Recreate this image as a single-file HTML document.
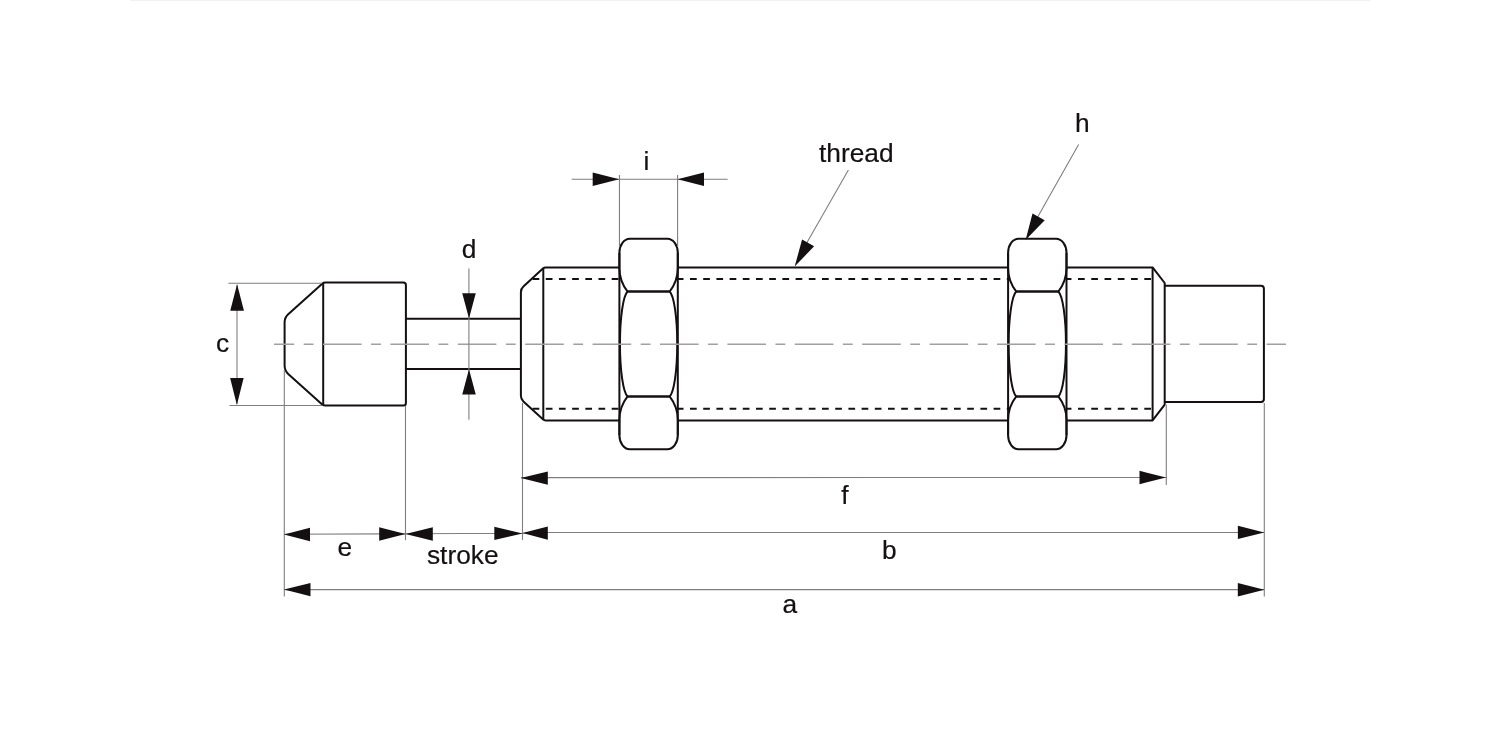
<!DOCTYPE html>
<html><head><meta charset="utf-8">
<style>
html,body{margin:0;padding:0;background:#fff;width:1500px;height:750px;overflow:hidden}
svg{display:block;will-change:transform}
text{font-family:"Liberation Sans",sans-serif;font-size:26.3px;fill:#141011;stroke:#141011;stroke-width:0.2px}
</style></head>
<body>
<svg width="1500" height="750" viewBox="0 0 1500 750">
<rect x="130" y="0" width="1240" height="1" fill="#f1f1f1"/>
<g fill="none" stroke="#141011" stroke-width="2" stroke-linejoin="round" stroke-linecap="butt">
<path d="M403.4,282.5 L325.4,282.5 Q323.6,282.5 322.2,283.7 L288.2,314.3 Q284.6,317.6 284.6,322.6 L284.6,365.6 Q284.6,370.6 288.2,373.9 L322.2,404.4 Q323.6,405.5 325.4,405.5 L403.4,405.5 Q405.9,405.5 405.9,403 L405.9,285 Q405.9,282.5 403.4,282.5 Z"/>
<path d="M323.2,283.4 L323.2,404.5"/>
<path d="M405.9,318.7 L520.9,318.7 M405.9,369.1 L520.9,369.1"/>
<path d="M545.6,267.4 L1152.6,267.4 L1164.7,283 L1164.7,404.6 L1152.6,420.4 L545.6,420.4 Q544.2,420.4 543.2,419.5 L523.4,401.4 Q520.9,399.1 520.9,395.7 L520.9,292.2 Q520.9,288.8 523.4,286.6 L543.2,268.3 Q544.2,267.4 545.6,267.4 Z"/>
<path d="M543.3,268.4 L543.3,419.4 M1152.6,267.4 L1152.6,420.4"/>
<path d="M1164.7,285.8 L1260.9,285.8 Q1263.9,285.8 1263.9,288.8 L1263.9,399.1 Q1263.9,402.1 1260.9,402.1 L1164.7,402.1"/>
</g>
<g stroke="#141011" stroke-width="2" fill="none">
<path d="M532.6,279.1 L620,279.1" stroke-dasharray="6.7 6.48"/>
<path d="M676.8,279.1 L1009,279.1" stroke-dasharray="6.7 6.5"/>
<path d="M1064.74,279.1 L1152,279.1" stroke-dasharray="6.7 6.56"/>
<path d="M532.6,408.8 L620,408.8" stroke-dasharray="6.7 6.48"/>
<path d="M676.8,408.8 L1009,408.8" stroke-dasharray="6.7 6.5"/>
<path d="M1064.74,408.8 L1152,408.8" stroke-dasharray="6.7 6.56"/>
</g>
<g stroke="#141011" stroke-width="2" stroke-linejoin="round">
<rect x="619.40" y="238.7" width="58.40" height="210.60" fill="#fff" stroke="none"/>
<path d="M619.40,252.7 L619.40,435.3 M677.80,252.7 L677.80,435.3" fill="none"/>
<path d="M629.80,238.7 L667.40,238.7 A10.4,14.0 0 0 1 677.80,252.7 L677.80,268.0 A38.0,38.0 0 0 1 669.60,291.6 L627.60,291.6 A38.0,38.0 0 0 1 619.40,268.0 L619.40,252.7 A10.4,14.0 0 0 1 629.80,238.7 Z" fill="none"/>
<path d="M627.60,291.6 L669.60,291.6 A9,53 0 0 1 669.60,396.4 L627.60,396.4 A9,53 0 0 1 627.60,291.6 Z" fill="none"/>
<path d="M629.80,449.3 L667.40,449.3 A10.4,14.0 0 0 0 677.80,435.3 L677.80,420.0 A38.0,38.0 0 0 0 669.60,396.4 L627.60,396.4 A38.0,38.0 0 0 0 619.40,420.0 L619.40,435.3 A10.4,14.0 0 0 0 629.80,449.3 Z" fill="none"/>
<rect x="1008.10" y="238.7" width="58.40" height="210.60" fill="#fff" stroke="none"/>
<path d="M1008.10,252.7 L1008.10,435.3 M1066.50,252.7 L1066.50,435.3" fill="none"/>
<path d="M1018.50,238.7 L1056.10,238.7 A10.4,14.0 0 0 1 1066.50,252.7 L1066.50,268.0 A38.0,38.0 0 0 1 1058.30,291.6 L1016.30,291.6 A38.0,38.0 0 0 1 1008.10,268.0 L1008.10,252.7 A10.4,14.0 0 0 1 1018.50,238.7 Z" fill="none"/>
<path d="M1016.30,291.6 L1058.30,291.6 A9,53 0 0 1 1058.30,396.4 L1016.30,396.4 A9,53 0 0 1 1016.30,291.6 Z" fill="none"/>
<path d="M1018.50,449.3 L1056.10,449.3 A10.4,14.0 0 0 0 1066.50,435.3 L1066.50,420.0 A38.0,38.0 0 0 0 1058.30,396.4 L1016.30,396.4 A38.0,38.0 0 0 0 1008.10,420.0 L1008.10,435.3 A10.4,14.0 0 0 0 1018.50,449.3 Z" fill="none"/>
</g>
<path d="M274,344.3 L1286,344.3" stroke="#a29fa0" stroke-width="1.4" fill="none" stroke-dasharray="38.6 9.5 9.8 9.5" stroke-dashoffset="18.4"/>
<g stroke="#817e7f" stroke-width="1.1" fill="none">
<path d="M228.4,283.3 L322,283.3 M229.5,405.5 L322,405.5 M237,285 L237,404 M468.9,268.6 L468.9,419.7 M571.7,179.3 L727.7,179.3 M619.47,175.1 L619.47,247 M677.6,175.1 L677.6,247 M284.3,370 L284.3,596.6 M405.5,406 L405.5,540.2 M522.5,403 L522.5,540 M1166.3,404.6 L1166.3,485 M1264.3,403 L1264.3,596.4 M521,477.6 L1166,477.5 M284.3,534.3 L405.5,533.8 L522.5,533.2 L548,532.5 L1264.4,532.45 M284.3,589.65 L1264.4,589.65 M848.4,170 L805,246 M1078.6,144.4 L1036,220"/>
</g>
<g fill="#141011">
<path d="M237.10,284.30 L243.95,310.80 L230.25,310.80 Z"/>
<path d="M236.90,405.00 L230.15,378.00 L243.65,378.00 Z"/>
<path d="M469.00,318.60 L462.25,293.30 L475.75,293.30 Z"/>
<path d="M469.00,369.30 L475.75,394.50 L462.25,394.50 Z"/>
<path d="M619.20,179.30 L592.70,186.00 L592.70,172.60 Z"/>
<path d="M677.50,179.30 L704.00,172.60 L704.00,186.00 Z"/>
<path d="M520.80,478.10 L547.80,471.40 L547.80,484.80 Z"/>
<path d="M1166.00,477.50 L1139.50,484.20 L1139.50,470.80 Z"/>
<path d="M284.00,534.50 L310.00,527.80 L310.00,541.20 Z"/>
<path d="M405.50,534.00 L379.20,540.70 L379.20,527.30 Z"/>
<path d="M405.50,534.00 L432.80,527.30 L432.80,540.70 Z"/>
<path d="M522.50,533.40 L494.30,540.10 L494.30,526.70 Z"/>
<path d="M522.50,533.10 L547.80,526.40 L547.80,539.80 Z"/>
<path d="M1264.30,532.40 L1237.90,539.10 L1237.90,525.70 Z"/>
<path d="M284.00,589.60 L310.50,582.90 L310.50,596.30 Z"/>
<path d="M1264.30,589.70 L1237.80,596.40 L1237.80,583.00 Z"/>
<path d="M794.70,266.60 L802.09,239.43 L814.11,246.20 Z"/>
<path d="M1025.60,239.90 L1032.51,213.38 L1044.71,220.25 Z"/>
</g>
<text x="646.3" y="169.6" text-anchor="middle">i</text>
<text x="856.3" y="161.6" text-anchor="middle">thread</text>
<text x="1082.3" y="131.6" text-anchor="middle">h</text>
<text x="469" y="258" text-anchor="middle">d</text>
<text x="222.6" y="351.6" text-anchor="middle">c</text>
<text x="845.0" y="503.7" text-anchor="middle">f</text>
<text x="344.7" y="555.8" text-anchor="middle">e</text>
<text x="462.75" y="563.8" text-anchor="middle">stroke</text>
<text x="889.3" y="559" text-anchor="middle">b</text>
<text x="789.8" y="612.8" text-anchor="middle">a</text>
</svg>
</body></html>
